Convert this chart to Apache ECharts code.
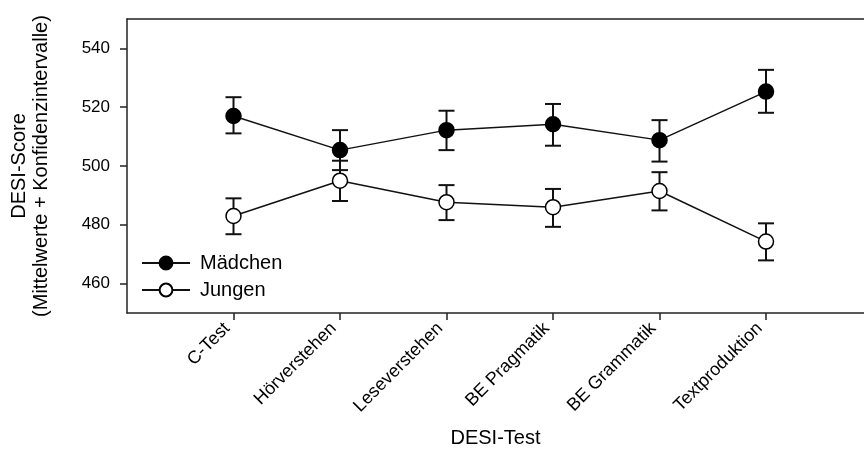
<!DOCTYPE html>
<html>
<head>
<meta charset="utf-8">
<script src="https://cdn.jsdelivr.net/npm/echarts@6/dist/echarts.min.js"></script>
<style>
  html, body { margin: 0; padding: 0; background: #fff; }
  #chart { width: 864px; height: 461px; }
</style>
</head>
<body>
<div id="chart"></div>
<script>
// DESI test areas
const tests = ['C-Test', 'Hörverstehen', 'Leseverstehen', 'BE Pragmatik', 'BE Grammatik', 'Textproduktion'];

// Mean scores with confidence interval bounds
const girlsMean = [517.0, 505.4, 512.2, 514.2, 508.8, 525.3];
const girlsLow  = [511.1, 498.6, 505.4, 506.9, 501.5, 518.1];
const girlsHigh = [523.4, 512.2, 518.8, 521.1, 515.6, 532.7];

const boysMean = [483.0, 495.0, 487.7, 486.0, 491.5, 474.3];
const boysLow  = [476.8, 488.1, 481.6, 479.3, 484.9, 467.9];
const boysHigh = [489.0, 501.8, 493.5, 492.2, 497.9, 480.5];

const yTicks = [460, 480, 500, 520, 540];

const INK = '#111';
const FRAME = '#222';
const FONT = '"Liberation Sans", Arial, sans-serif';

// tests sit at positions 1..6 on a numeric axis; the frame runs off the right edge
const xPos = tests.map((_, i) => i + 1);
const pairs = (vals) => vals.map((v, i) => [xPos[i], v]);
const bars = (lo, hi) => lo.map((l, i) => [xPos[i], l, hi[i]]);

function errorBar(params, api) {
  const x = api.value(0);
  const lo = api.coord([x, api.value(1)]);
  const hi = api.coord([x, api.value(2)]);
  const half = 8;
  const style = { stroke: INK, lineWidth: 2 };
  return {
    type: 'group',
    children: [
      { type: 'line', shape: { x1: lo[0], y1: lo[1], x2: hi[0], y2: hi[1] }, style },
      { type: 'line', shape: { x1: lo[0] - half, y1: lo[1], x2: lo[0] + half, y2: lo[1] }, style },
      { type: 'line', shape: { x1: hi[0] - half, y1: hi[1], x2: hi[0] + half, y2: hi[1] }, style }
    ]
  };
}

const chart = echarts.init(document.getElementById('chart'), null, { renderer: 'canvas' });

chart.setOption({
  animation: false,
  backgroundColor: '#fff',
  textStyle: { fontFamily: FONT, color: '#000' },
  grid: { left: 126, top: 19, right: 0, bottom: 148, containLabel: false },
  legend: {
    orient: 'vertical',
    left: 141, top: 253,
    padding: 0,
    itemWidth: 48, itemHeight: 16, itemGap: 7,
    textStyle: { fontFamily: FONT, fontSize: 20, lineHeight: 20, color: '#000', padding: [0, 0, 0, 5] },
    data: ['Mädchen', 'Jungen']
  },
  xAxis: [
    {
      type: 'value',
      min: 0, max: 6.92,
      splitLine: { show: false },
      axisLine: { show: true, lineStyle: { color: FRAME, width: 1.5 } },
      axisTick: { show: true, length: 7, customValues: xPos, lineStyle: { color: FRAME, width: 1.5 } },
      axisLabel: {
        customValues: xPos,
        rotate: 45,
        margin: 19,
        verticalAlign: 'bottom',
        fontSize: 18,
        fontFamily: FONT,
        color: '#000',
        formatter: (v) => tests[Math.round(v) - 1] || ''
      },
      name: 'DESI-Test',
      nameLocation: 'middle',
      nameGap: 115,
      nameTextStyle: { fontSize: 20, fontFamily: FONT, color: '#000' }
    },
    {
      // top edge of the frame
      type: 'value',
      position: 'top',
      min: 0, max: 6.92,
      splitLine: { show: false },
      axisLine: { show: true, onZero: false, lineStyle: { color: FRAME, width: 1.5 } },
      axisTick: { show: false },
      axisLabel: { show: false }
    }
  ],
  yAxis: {
    type: 'value',
    min: 450, max: 550,
    splitLine: { show: false },
    axisLine: { show: true, lineStyle: { color: FRAME, width: 1.5 } },
    axisTick: { show: true, length: 7, customValues: yTicks, lineStyle: { color: FRAME, width: 1.5 } },
    axisLabel: { customValues: yTicks, margin: 17, fontSize: 17, fontFamily: FONT, color: '#000' },
    name: 'DESI-Score\n(Mittelwerte + Konfidenzintervalle)',
    nameLocation: 'middle',
    nameRotate: 90,
    nameGap: 75,
    nameTextStyle: { fontSize: 20, lineHeight: 22, fontFamily: FONT, color: '#000', align: 'center' }
  },
  series: [
    {
      type: 'custom',
      name: 'girlsCI',
      renderItem: errorBar,
      data: bars(girlsLow, girlsHigh),
      z: 1, silent: true
    },
    {
      type: 'custom',
      name: 'boysCI',
      renderItem: errorBar,
      data: bars(boysLow, boysHigh),
      z: 1, silent: true
    },
    {
      type: 'line',
      name: 'Mädchen',
      data: pairs(girlsMean),
      symbol: 'circle',
      symbolSize: 15,
      lineStyle: { color: INK, width: 1.5 },
      itemStyle: { color: '#000', borderColor: '#000', borderWidth: 1.5 },
      z: 3
    },
    {
      type: 'line',
      name: 'Jungen',
      data: pairs(boysMean),
      symbol: 'circle',
      symbolSize: 15,
      lineStyle: { color: INK, width: 1.5 },
      itemStyle: { color: '#fff', borderColor: '#000', borderWidth: 1.5 },
      z: 3
    }
  ]
});
</script>
</body>
</html>
